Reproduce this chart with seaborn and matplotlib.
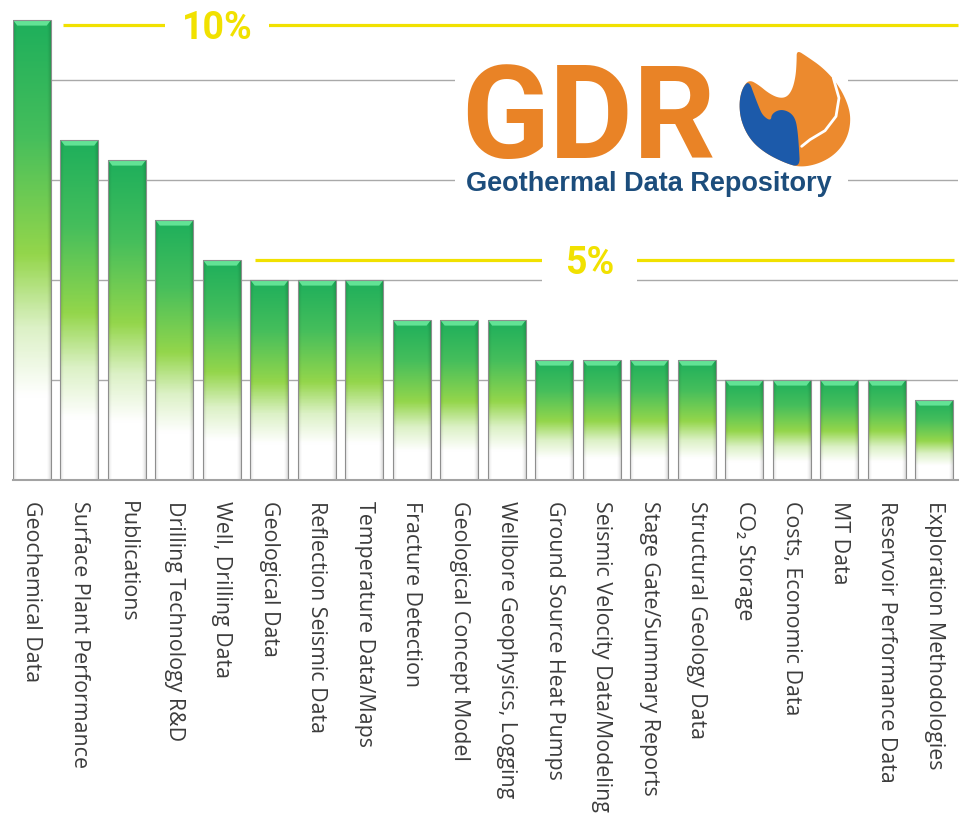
import numpy as np
import pandas as pd
import seaborn as sns
import matplotlib.pyplot as plt
from matplotlib.colors import LinearSegmentedColormap
from matplotlib.patches import Polygon

#-----------------------------------------------------------------------------------------------------------------------
"""Data"""
categories = ["Geochemical Data", "Surface Plant Performance", "Publications", "Drilling Technology R&D",
              "Well, Drilling Data", "Geological Data", "Reflection Seismic Data", "Temperature Data/Maps",
              "Fracture Detection", "Geological Concept Model", "Wellbore Geophysics, Logging",
              "Ground Source Heat Pumps", "Seismic Velocity Data/Modeling", "Stage Gate/Summary Reports",
              "Structural Geology Data", "CO\u2082 Storage", "Costs, Economic Data", "MT Data",
              "Reservoir Performance Data", "Exploration Methodologies"]
counts = [23, 17, 16, 13, 11, 10, 10, 10, 8, 8, 8, 6, 6, 6, 6, 5, 5, 5, 5, 4]

ref_labels = ["10%", "5%"]
ref_levels = [22.75, 11.0]

df = pd.DataFrame({"category": categories, "count": counts})

#-----------------------------------------------------------------------------------------------------------------------
"""Figure"""
sns.set_style("white")
plt.rcParams['font.family'] = ['Open Sans', 'DejaVu Sans']

W, H = 966, 816
fig = plt.figure(figsize=(W / 100, H / 100), dpi=100)
ax = fig.add_axes([13 / W, 1 - 480 / H, 945 / W, 480 / H])

sns.barplot(data=df, x="category", y="count", ax=ax, width=0.8, color='#2db45c',
            edgecolor='#8e8e8e', linewidth=0.8, errorbar=None, zorder=2)

#-----------------------------------------------------------------------------------------------------------------------
"""Gradient fill for the bars"""
grad_cmap = LinearSegmentedColormap.from_list(
    "bar", [(0, '#ffffff'), (0.18, '#ffffff'), (0.33, '#dcf1c6'), (0.49, '#94d64b'),
            (0.75, '#45be5c'), (1, '#1eaf5b')])
v = np.linspace(0, 1, 200)[:, None]
u = np.linspace(-1, 1, 40)[None, :]
img = grad_cmap(np.repeat(v, 40, axis=1))[..., :3]
shade = 1 - 0.14 * np.clip((np.abs(u) - 0.8) / 0.2, 0, 1) ** 1.5
img = img * shade[..., None]

bars = list(ax.patches)
for p in bars:
    x0, w, h = p.get_x(), p.get_width(), p.get_height()
    im = ax.imshow(img, extent=[x0, x0 + w, 0, h], origin='lower', aspect='auto',
                   interpolation='bilinear', zorder=2.1)
    im.set_clip_path(p)
    p.set_facecolor('none')
    p.set_zorder(2.3)
    # bevelled top
    dx, bh = 0.09, 0.28
    ax.add_patch(Polygon([(x0, h), (x0 + w, h), (x0 + w - dx, h - bh), (x0 + dx, h - bh)],
                         closed=True, facecolor='#62e395', edgecolor='none', zorder=2.2))

#-----------------------------------------------------------------------------------------------------------------------
"""Axes styling"""
ax.set_xlim(-0.4, 19.47)
ax.set_ylim(0, 24)
ax.set_yticks([5, 10, 15, 20])
ax.set_yticklabels([])
ax.yaxis.grid(True, color='#a9a9a9', linewidth=1)
ax.set_axisbelow(True)
ax.tick_params(axis='y', length=0)

for s in ['top', 'right', 'left']:
    ax.spines[s].set_visible(False)
ax.spines['bottom'].set_color('#a3a3a3')
ax.spines['bottom'].set_linewidth(1.5)

ax.set_xticks(range(len(categories)))
ax.set_xticklabels(categories, rotation=270, ha='center', va='top', fontsize=15.4, color='#3c3c3c')
ax.set_xticks(np.arange(len(categories)) + 0.5, minor=True)
ax.tick_params(axis='x', which='major', length=0, pad=15)
ax.tick_params(axis='x', which='minor', length=4, width=1, color='#a3a3a3')
ax.set_xlabel("")
ax.set_ylabel("")

#-----------------------------------------------------------------------------------------------------------------------
"""Percentage reference lines"""
yellow = '#f1e100'
ref_span = [(0.66, 19.51), (4.70, 19.41)]
ref_text_x = [3.9, 11.74]
ref_pad = [0.45, 0.62]
for lab, lvl, (xa, xb), xt, pad in zip(ref_labels, ref_levels, ref_span, ref_text_x, ref_pad):
    ax.hlines(lvl, xa, xb, color=yellow, linewidth=2.3, zorder=3, clip_on=False)
    ax.annotate(lab, (xt, lvl), xytext=(0, -10), textcoords='offset points',
                ha='center', va='baseline', fontsize=27, fontweight='bold', color=yellow,
                family=['Roboto', 'DejaVu Sans'], zorder=4,
                bbox=dict(facecolor='white', edgecolor='none', boxstyle=f'square,pad={pad}'))

#-----------------------------------------------------------------------------------------------------------------------
"""Logo"""
lax = fig.add_axes([455 / W, 1 - 200 / H, 393 / W, 155 / H])
lax.set_xlim(455, 848)
lax.set_ylim(200, 45)
lax.set_facecolor('white')
lax.set_xticks([])
lax.set_yticks([])
for s in lax.spines.values():
    s.set_visible(False)

lax.text(461, 158, "GDR", fontsize=93, fontweight='bold', color='#e98326',
         family=['Roboto', 'DejaVu Sans'], ha='left', va='baseline')
lax.text(466, 191, "Geothermal Data Repository", fontsize=19.5, fontweight='bold', color='#1c4d7c',
         family=['Liberation Sans', 'DejaVu Sans'], ha='left', va='baseline')


def smooth(pts, it=3):
    pts = np.asarray(pts, float)
    for _ in range(it):
        nxt = np.roll(pts, -1, axis=0)
        a = 0.75 * pts + 0.25 * nxt
        b = 0.25 * pts + 0.75 * nxt
        pts = np.empty((2 * len(a), 2))
        pts[0::2] = a
        pts[1::2] = b
    return pts


def to_px(pts):
    return [(735 + a / 3, 48 + b / 3) for a, b in pts]


orange_pts = [(185, 6), (215, 25), (265, 60), (310, 110), (340, 170), (348, 220), (335, 275), (300, 320),
              (250, 348), (195, 358), (150, 345), (90, 315), (45, 275), (18, 220), (12, 165), (22, 120),
              (42, 95), (70, 110), (100, 135), (130, 150), (155, 148), (172, 125), (182, 85), (185, 40)]
blue_pts = [(42, 98), (22, 120), (12, 165), (18, 220), (45, 275), (90, 315), (150, 345), (195, 358),
            (192, 300), (188, 250), (182, 215), (168, 195), (145, 185), (125, 188), (110, 200), (108, 215),
            (98, 214), (82, 200), (72, 178), (58, 142)]
lax.add_patch(Polygon(smooth(to_px(orange_pts)), closed=True, facecolor='#ec8a2e', edgecolor='none',
                      clip_on=False))
lax.add_patch(Polygon(smooth(to_px(blue_pts)), closed=True, facecolor='#1c5aaa', edgecolor='none',
                      clip_on=False))
wl = np.array(to_px([(295, 90), (312, 150), (303, 205), (270, 248), (225, 275), (200, 295)]))
lax.plot(wl[:, 0], wl[:, 1], color='white', linewidth=2, solid_capstyle='round', clip_on=False)

#-----------------------------------------------------------------------------------------------------------------------
fig.savefig('out.png', dpi=100)
